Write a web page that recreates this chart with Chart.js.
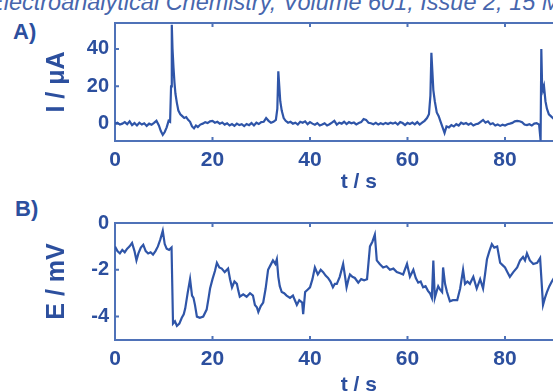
<!DOCTYPE html>
<html>
<head>
<meta charset="utf-8">
<script src="https://cdn.jsdelivr.net/npm/chart.js@4/dist/chart.umd.min.js"></script>
<style>
  html, body { margin: 0; padding: 0; background: #fff; overflow: hidden; width: 553px; height: 392px; }
  body { position: relative; }
  canvas { position: absolute; left: 0; }
  #chartA { top: 0; }
  #chartB { top: 200px; }
  .tag { position: absolute; font: bold 22px 'Liberation Sans', Arial, sans-serif; line-height: 22px; color: #2c4f9e; }
  #header { position: absolute; left: -12px; top: -10px; white-space: nowrap; font: italic 23.5px 'Liberation Sans', Arial, sans-serif; line-height: 24px; color: #4766ad; }
</style>
</head>
<body>
<div id="header">Electroanalytical Chemistry, Volume 601, Issue 2, 15 March 2007</div>
<div class="tag" style="left:13px;top:21px">A)</div>
<div class="tag" style="left:15px;top:198px">B)</div>
<canvas id="chartA" width="640" height="200"></canvas>
<canvas id="chartB" width="640" height="210"></canvas>
<script>
// panel A: current transient
const timeA = [
  0, 0.5, 1, 1.5, 2, 2.5, 3, 3.5, 4, 4.5,
  5, 5.5, 6, 6.5, 7, 7.5, 8, 8.5, 9, 9.4,
  9.8, 10.2, 10.6, 11, 11.3, 11.5, 11.65, 11.8, 12, 12.2,
  12.4, 12.7, 13, 13.4, 13.8, 14.2, 14.6, 15, 15.4, 15.8,
  16.2, 16.6, 17, 17.5, 18, 18.5, 19, 19.5, 20, 20.5,
  21, 21.5, 22, 22.5, 23, 23.5, 24, 24.5, 25, 25.5,
  26, 26.5, 27, 27.5, 28, 28.5, 29, 29.5, 30, 30.5,
  31, 31.5, 32, 32.5, 33, 33.3, 33.5, 33.7, 33.9, 34.2,
  34.6, 35, 35.5, 36, 36.5, 37, 37.5, 38, 38.5, 39,
  39.5, 40, 40.5, 41, 41.5, 42, 42.5, 43, 43.5, 44,
  44.5, 45, 45.5, 46, 46.5, 47, 47.5, 48, 48.5, 49,
  49.5, 50, 50.5, 51, 51.5, 52, 52.5, 53, 53.5, 54,
  54.5, 55, 55.5, 56, 56.5, 57, 57.5, 58, 58.5, 59,
  59.5, 60, 60.5, 61, 61.5, 62, 62.5, 63, 63.5, 64,
  64.4, 64.7, 64.9, 65.1, 65.3, 65.6, 66, 66.4, 66.8, 67.2,
  67.6, 68, 68.5, 69, 69.5, 70, 70.5, 71, 71.5, 72,
  72.5, 73, 73.5, 74, 74.5, 75, 75.5, 76, 76.5, 77,
  77.5, 78, 78.5, 79, 79.5, 80, 80.5, 81, 81.5, 82,
  82.5, 83, 83.5, 84, 84.5, 85, 85.5, 86, 86.5, 87,
  87.3, 87.45, 87.6, 87.8, 88, 88.3, 88.6, 89, 89.4, 89.8,
  90.2, 90.6
]
const currentA = [
  0, 0.5, -0.5, 0, 0.8, -0.3, 1.2, -0.8, 0.3, -1,
  0.5, -0.5, 0.2, -1.2, 0, -0.6, 0.4, 1.5, -1, -4,
  -6, -4.5, -2, 1.5, 1, 20, 53, 40, 30, 22,
  16, 11, 7, 5, 4, 3, 3.5, 2, 1, -1.5,
  -2.5, -1, -1.8, -0.5, 0, 0.8, 0.3, 1.2, 1.5, 0.5,
  1, 0, 0.6, -0.5, 0.2, -1, -0.2, -1.2, 0, -0.8,
  -0.3, -1.3, -0.2, -0.8, 0.3, -1, 0.5, -0.2, 0.8, 1,
  3, 1.5, 0.5, 1, 2, 8, 28, 20, 12, 7,
  3, 1.5, 0.5, 1, 0, 0.5, -0.5, 1, 0.5, 1.2,
  -0.3, 0.8, 0, -0.6, 0.3, -1, -0.5, 0.2, -1, -0.3,
  0.5, 1.5, -0.5, 0.5, 0, 1, -0.2, 0.8, 0.2, 0.6,
  -0.4, 0.3, 0.8, 2.5, 2, 0.5, 0.2, -0.3, 0.4, -0.5,
  0.2, -0.3, 0.4, -0.2, 0.5, 0, 0.6, -0.5, 0.8, 0.3,
  -0.8, 0.4, -0.2, 0.6, -0.4, 0.8, -0.5, 0.5, 1.5, 3,
  5, 15, 38, 28, 18, 12, 6, 4, 1, -2,
  -5, -1.5, -2, -0.8, -1.5, -0.3, -1, 0.5, -0.2, 0.3,
  -0.6, 0.2, -1, -0.3, 0, 1, 2, 0.5, 1.2, -0.3,
  0.2, -1, -0.4, -1.2, -0.6, -1, -0.3, 0, 0.4, 1.2,
  1.5, 1.3, 0.8, -0.5, -0.8, -0.3, -1, 0, 0.2, -0.5,
  -9, 40, 22, 18, 20, 12, 8, 5, 4, 3,
  2, 1.5
]

// panel B: potential
const timeB = [
  0, 0.5, 1, 1.5, 2, 2.5, 3, 3.5, 4, 4.4,
  4.8, 5.3, 5.8, 6.3, 6.8, 7.3, 7.8, 8.3, 8.8, 9.3,
  9.8, 10.2, 10.6, 11.1, 11.6, 11.9, 12.3, 12.7, 13.2, 13.7,
  14.1, 14.4, 14.9, 15.4, 15.8, 16.1, 16.4, 16.8, 17.4, 18.1,
  18.8, 19.2, 19.5, 20, 20.5, 20.9, 21.4, 21.9, 22.5, 23.2,
  23.6, 24, 24.5, 25, 25.3, 25.6, 26.3, 27, 27.7, 28.3,
  28.7, 29.1, 29.4, 29.9, 30.4, 30.9, 31.4, 31.9, 32.4, 32.9,
  33.2, 33.5, 33.8, 34.2, 34.7, 35.2, 35.9, 36.5, 36.9, 37.3,
  37.8, 38.4, 38.6, 39, 39.5, 40, 40.5, 41, 41.6, 42.2,
  42.7, 43.2, 43.7, 44.2, 44.7, 45.1, 45.5, 46.1, 46.8, 47.2,
  47.5, 47.9, 48.2, 48.7, 49.2, 49.9, 50.5, 51.1, 51.7, 52.3,
  52.8, 53.3, 53.7, 54.3, 55, 55.7, 56.4, 57.1, 57.8, 58.5,
  59.1, 59.9, 60.5, 61.2, 61.7, 62.2, 62.7, 63.2, 63.7, 64.2,
  64.6, 65, 65.3, 65.6, 66, 66.3, 66.7, 67.1, 67.3, 67.7,
  68.1, 68.7, 69.3, 70.2, 70.8, 71.4, 71.8, 72.3, 72.8, 73.5,
  74.2, 74.9, 75.5, 75.9, 76.3, 76.8, 77.3, 77.8, 78.4, 79,
  79.5, 80, 80.5, 81, 81.7, 82.5, 83.1, 83.7, 84.1, 84.5,
  85.1, 85.8, 86.6, 87.2, 87.8, 88.2, 88.6, 89.1, 89.6, 90.2
]
const potentialB = [
  -1.0, -1.2, -1.3, -1.15, -1.25, -1.1, -1.0, -0.85, -1.2, -1.6,
  -1.3, -1.05, -0.93, -1.2, -1.3, -1.25, -1.35, -1.2, -1.0, -0.7,
  -0.33, -0.9, -1.1, -1.15, -1.05, -4.3, -4.2, -4.4, -4.3, -4.05,
  -3.9, -3.66, -3.0, -2.4, -3.1, -3.2, -3.5, -4.0, -4.05, -4.0,
  -3.7, -3.2, -2.8, -2.4, -2.05, -1.7, -1.9, -1.95, -2.1, -1.95,
  -2.4, -2.75, -2.5, -2.6, -2.9, -3.15, -3.05, -3.15, -3.0, -3.1,
  -3.5, -3.6, -3.8, -3.55, -3.4, -2.8, -2.0, -1.8, -1.6, -1.75,
  -1.55, -2.3, -2.7, -2.95, -3.0, -3.1, -3.2, -3.1, -3.3, -3.5,
  -3.3, -3.4, -3.9, -2.95, -2.85, -2.75, -2.4, -1.9, -2.2, -2.0,
  -2.1, -2.25, -2.35, -2.5, -2.75, -2.6, -2.6, -2.3, -1.75, -2.3,
  -2.75, -2.4, -2.2, -2.3, -2.35, -2.55, -2.4, -2.45, -2.4, -1.0,
  -0.8, -0.5, -1.6, -1.75, -1.9, -1.85, -2.0, -1.95, -2.1, -2.15,
  -2.2, -1.75, -2.3, -2.0, -2.35, -2.55, -2.5, -2.75, -2.7, -2.9,
  -3.0, -3.2, -1.6, -3.2, -2.9, -2.7, -2.85, -2.95, -1.9, -2.6,
  -2.95, -3.35, -3.3, -3.3, -2.8, -2.0, -2.6, -2.5, -2.6, -2.3,
  -2.8, -2.4, -2.8, -2.2, -1.55, -1.2, -0.9, -1.05, -1.0, -1.7,
  -1.8, -1.9, -2.1, -2.3, -2.1, -1.9, -1.6, -1.45, -1.6, -1.3,
  -1.6, -1.75, -1.7, -1.5, -3.5, -3.2, -2.95, -2.7, -2.5, -2.3
]

const timeTicks = [0, 20, 40, 60, 80, 100]
const currentTicks = [0, 20, 40]
const potentialTicks = [0, -2, -4]

const INK = '#2c4f9e'
const TRACE = '#2f55a8'
const FRAME = '#4f72b8'
const FONT = { family: "'Liberation Sans', Arial, sans-serif", size: 20, weight: 'bold' }

// box round the plot area with short inward ticks
const framePlugin = {
  id: 'frame',
  beforeDatasetsDraw(chart) {
    const { ctx, chartArea: a, scales: { x, y } } = chart
    ctx.save()
    ctx.strokeStyle = FRAME
    ctx.lineWidth = 2
    ctx.beginPath()
    ctx.moveTo(a.right, a.top)
    ctx.lineTo(a.left, a.top)
    ctx.lineTo(a.left, a.bottom)
    ctx.lineTo(a.right, a.bottom)
    x.ticks.forEach((t) => {
      const px = x.getPixelForValue(t.value)
      ctx.moveTo(px, a.top)
      ctx.lineTo(px, a.top + 4)
      ctx.moveTo(px, a.bottom)
      ctx.lineTo(px, a.bottom - 4)
    })
    y.ticks.forEach((t) => {
      const py = y.getPixelForValue(t.value)
      ctx.moveTo(a.left, py)
      ctx.lineTo(a.left + 4, py)
    })
    ctx.stroke()
    ctx.restore()
  },
}

function makePanel(id, times, values, yMin, yMax, yTicks, yTitle, xHeight, xTitlePad) {
  const points = times.map((t, i) => ({ x: t, y: values[i] }))
  return new Chart(document.getElementById(id), {
    type: 'line',
    data: {
      datasets: [{
        data: points,
        borderColor: TRACE,
        borderWidth: 2.2,
        pointRadius: 0,
        tension: 0,
      }],
    },
    options: {
      responsive: false,
      animation: false,
      layout: { padding: { top: 23, left: 0, right: 37.5, bottom: 0 } },
      plugins: { legend: { display: false }, tooltip: { enabled: false } },
      scales: {
        x: {
          type: 'linear',
          min: 0,
          max: 100,
          afterBuildTicks: (scale) => { scale.ticks = timeTicks.map(v => ({ value: v })) },
          afterFit: (scale) => { scale.height = xHeight },
          grid: { display: false, drawTicks: false },
          border: { display: false },
          ticks: { font: { ...FONT, size: 21 }, color: INK, padding: 7, maxRotation: 0, autoSkip: false },
          title: { display: true, text: 't / s', font: { ...FONT, size: 21 }, color: INK, padding: { top: 0, bottom: xTitlePad } },
        },
        y: {
          min: yMin,
          max: yMax,
          afterBuildTicks: (scale) => { scale.ticks = yTicks.map(v => ({ value: v })) },
          afterFit: (scale) => { scale.width = 115 },
          grid: { display: false, drawTicks: false },
          border: { display: false },
          ticks: { font: FONT, color: INK, padding: 6 },
          title: { display: true, text: yTitle, font: { ...FONT, size: 25 }, color: INK, padding: { top: 42, bottom: 0 } },
        },
      },
    },
    plugins: [framePlugin],
  })
}

makePanel('chartA', timeA, currentA, -9.3, 53.9, currentTicks, 'I / μA', 59, 5)
makePanel('chartB', timeB, potentialB, -5, 0, potentialTicks, 'E / mV', 70, 12)
</script>
</body>
</html>
